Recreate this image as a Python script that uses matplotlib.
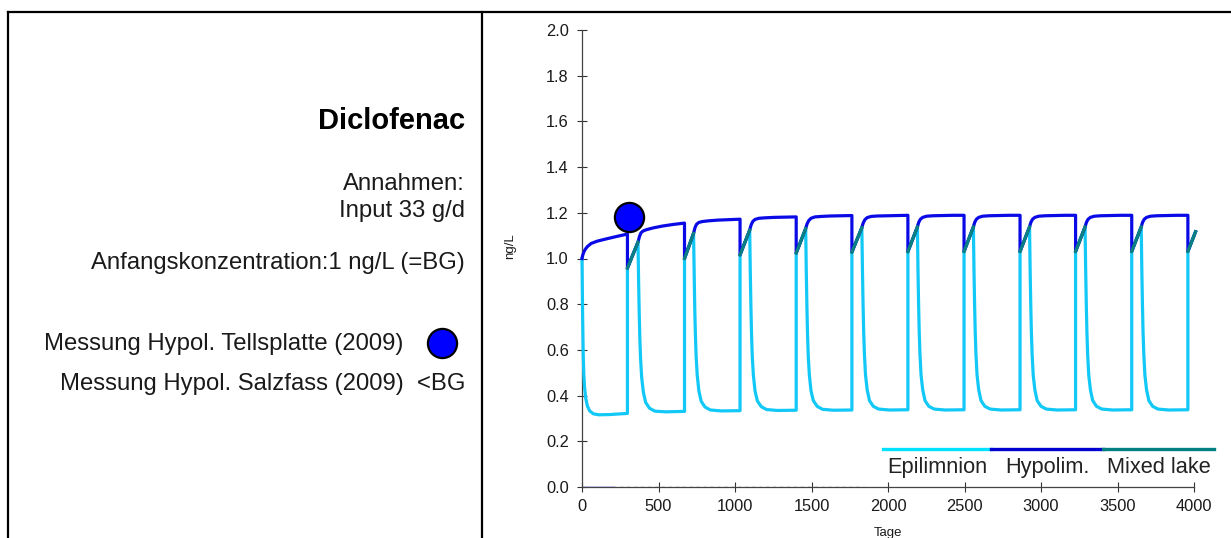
import matplotlib
matplotlib.use('Agg')
import matplotlib.pyplot as plt
from matplotlib.lines import Line2D

plt.rcParams['font.family'] = ['Liberation Sans', 'DejaVu Sans']

# --- values ---
# start of each stratified period and day of autumn overturn (days)
restrat_days = [0, 366, 729, 1096, 1462, 1829, 2192, 2558, 2925, 3288, 3655]
overturn_days = [297, 670, 1033, 1400, 1764, 2130, 2497, 2863, 3226, 3593, 3960]
last_day = 4010

# hypolimnion, days after restratification (last value sits at overturn)
hypo_offsets = [0, 5, 10, 20, 35, 60, 100, 160, 230]
hypo_values = [
    [1.000, 1.015, 1.025, 1.039, 1.052, 1.066, 1.076, 1.086, 1.097, 1.107],
    [1.072, 1.085, 1.097, 1.113, 1.121, 1.127, 1.134, 1.142, 1.149, 1.155],
    [1.110, 1.124, 1.136, 1.150, 1.158, 1.162, 1.165, 1.168, 1.170, 1.172],
    [1.124, 1.137, 1.148, 1.162, 1.171, 1.176, 1.178, 1.180, 1.181, 1.182],
    [1.131, 1.143, 1.153, 1.166, 1.176, 1.182, 1.184, 1.186, 1.187, 1.188],
    [1.135, 1.147, 1.157, 1.170, 1.179, 1.184, 1.186, 1.187, 1.188, 1.189],
    [1.138, 1.150, 1.160, 1.172, 1.180, 1.185, 1.187, 1.188, 1.189, 1.189],
    [1.138, 1.150, 1.160, 1.172, 1.180, 1.185, 1.187, 1.188, 1.189, 1.189],
    [1.138, 1.150, 1.160, 1.172, 1.180, 1.185, 1.187, 1.188, 1.189, 1.189],
    [1.138, 1.150, 1.160, 1.172, 1.180, 1.185, 1.187, 1.188, 1.189, 1.189],
    [1.138, 1.150, 1.160, 1.172, 1.180, 1.185, 1.187, 1.188, 1.189, 1.189],
]

# epilimnion, days after restratification (last value sits at overturn)
epi_offsets = [0, 4, 8, 12, 17, 24, 35, 50, 75, 110, 180]
epi_values = [
    [1.000, 0.75, 0.58, 0.49, 0.435, 0.39, 0.355, 0.333, 0.320, 0.316, 0.317, 0.322],
    [1.072, 0.90, 0.76, 0.65, 0.56, 0.48, 0.415, 0.370, 0.345, 0.332, 0.329, 0.331],
    [1.110, 0.93, 0.78, 0.67, 0.57, 0.49, 0.420, 0.375, 0.350, 0.337, 0.333, 0.334],
    [1.124, 0.94, 0.79, 0.67, 0.57, 0.49, 0.420, 0.377, 0.352, 0.339, 0.335, 0.336],
    [1.131, 0.94, 0.79, 0.67, 0.57, 0.49, 0.420, 0.378, 0.353, 0.340, 0.336, 0.337],
    [1.135, 0.95, 0.80, 0.68, 0.58, 0.49, 0.425, 0.378, 0.353, 0.341, 0.337, 0.338],
    [1.138, 0.95, 0.80, 0.68, 0.58, 0.49, 0.425, 0.378, 0.353, 0.341, 0.337, 0.338],
    [1.138, 0.95, 0.80, 0.68, 0.58, 0.49, 0.425, 0.378, 0.353, 0.341, 0.337, 0.338],
    [1.138, 0.95, 0.80, 0.68, 0.58, 0.49, 0.425, 0.378, 0.353, 0.341, 0.337, 0.338],
    [1.138, 0.95, 0.80, 0.68, 0.58, 0.49, 0.425, 0.378, 0.353, 0.341, 0.337, 0.338],
    [1.138, 0.95, 0.80, 0.68, 0.58, 0.49, 0.425, 0.378, 0.353, 0.341, 0.337, 0.338],
]

# mixed lake: value right after overturn and at the end of the mixed period
mix_start = [0.958, 1.000, 1.016, 1.024, 1.028, 1.030, 1.031, 1.031, 1.031, 1.031, 1.031]
mix_end = [1.072, 1.110, 1.124, 1.131, 1.135, 1.138, 1.138, 1.138, 1.138, 1.138, 1.117]

# measurement Tellsplatte 2009
meas_day = [310]
meas_value = [1.18]

# flat lines lying on the x axis
zero_solid_days = [0, 200]
zero_dotted_days = [200, 1840]

legend_labels = ['Epilimnion', 'Hypolim.', 'Mixed lake']
x_ticks = [0, 500, 1000, 1500, 2000, 2500, 3000, 3500, 4000]
y_ticks = [0.0, 0.2, 0.4, 0.6, 0.8, 1.0, 1.2, 1.4, 1.6, 1.8, 2.0]

c_epi = '#12C8F6'
c_hypo = '#0A0AE6'
c_mix = '#0A8080'
c_text = '#1a1a1a'

W, H = 1231, 538
fig = plt.figure(figsize=(W / 100, H / 100), dpi=100)
ax = fig.add_axes([582 / W, 1 - 487 / H, (1194 - 582) / W, (487 - 30) / H])

# build the two stratified series and the mixed segments
epi_x, epi_y, hypo_x, hypo_y, mix_segments = [], [], [], [], []
for i, start in enumerate(restrat_days):
    stop = overturn_days[i]
    mix_stop = restrat_days[i + 1] if i + 1 < len(restrat_days) else last_day
    epi_x += [start + o for o in epi_offsets] + [stop, stop, mix_stop]
    epi_y += epi_values[i] + [mix_start[i], mix_end[i]]
    hypo_x += [start + o for o in hypo_offsets] + [stop, stop, mix_stop]
    hypo_y += hypo_values[i] + [mix_start[i], mix_end[i]]
    mix_segments.append(([stop, mix_stop], [mix_start[i], mix_end[i]]))

ax.plot(zero_solid_days, [0, 0], color=c_hypo, lw=1.0, zorder=2)
ax.plot(zero_dotted_days, [0, 0], color='#5a6a80', lw=1.0, ls=(0, (2, 3)), zorder=2)

ax.plot(epi_x, epi_y, color=c_epi, lw=2.3, clip_on=False, zorder=3,
        solid_joinstyle='round')
ax.plot(hypo_x, hypo_y, color=c_hypo, lw=2.3, clip_on=False, zorder=4,
        solid_joinstyle='round')
for sx, sy in mix_segments:
    ax.plot(sx, sy, color=c_mix, lw=2.3, clip_on=False, zorder=5)

ax.plot(meas_day, meas_value, 'o', ms=21, mfc='#0000FF', mec='black', mew=1.6,
        zorder=6, clip_on=False)

ax.set_xlim(0, 4000)
ax.set_ylim(0, 2.0)
ax.set_xticks(x_ticks)
ax.set_yticks(y_ticks)
ax.set_yticklabels([f'{v:.1f}' for v in y_ticks])
for s in ['top', 'right']:
    ax.spines[s].set_visible(False)
for s in ['left', 'bottom']:
    ax.spines[s].set_color('#444444')
    ax.spines[s].set_linewidth(0.9)
ax.tick_params(direction='inout', length=7, width=0.8, color='#333333',
               labelsize=11.8, labelcolor=c_text)
ax.tick_params(axis='y', pad=6)
ax.tick_params(axis='x', pad=5)
ax.set_xlabel('Tage', fontsize=9.5, color=c_text)
ax.set_ylabel('ng/L', fontsize=9.5, color=c_text, va='center')
ax.xaxis.set_label_coords(0.5, -0.088)
ax.yaxis.set_label_coords(-0.118, 0.527)

# legend: one bar split in three colours, labels underneath
leg_y = 1 - 449 / H
leg_edges = [883, 991, 1103, 1214]
leg_text_x = [887, 1005, 1107]
for i, (lab, col) in enumerate(zip(legend_labels, ['#00E2FF', '#0000D0', '#008080'])):
    fig.add_artist(Line2D([leg_edges[i] / W, leg_edges[i + 1] / W], [leg_y, leg_y],
                          color=col, lw=2.4, transform=fig.transFigure))
    fig.text(leg_text_x[i] / W, 1 - 473 / H, lab, fontsize=15.7, color='#222222',
             ha='left', va='baseline')

# frame around the text panel and along the top
frame_kw = dict(color='black', lw=1.6, transform=fig.transFigure)
fig.add_artist(Line2D([8 / W, 8 / W], [0, 1 - 12 / H], **frame_kw))
fig.add_artist(Line2D([482 / W, 482 / W], [0, 1 - 12 / H], **frame_kw))
fig.add_artist(Line2D([8 / W, 1], [1 - 12 / H, 1 - 12 / H], **frame_kw))

# text panel
fs = 17.2
fig.text(465 / W, 1 - 129 / H, 'Diclofenac', fontsize=21, fontweight='bold',
         ha='right', va='baseline', color='black')
fig.text(465 / W, 1 - 190 / H, 'Annahmen:', fontsize=fs, ha='right',
         va='baseline', color=c_text)
fig.text(465 / W, 1 - 217 / H, 'Input 33 g/d', fontsize=fs, ha='right',
         va='baseline', color=c_text)
fig.text(465 / W, 1 - 269 / H, 'Anfangskonzentration:1 ng/L (=BG)', fontsize=fs,
         ha='right', va='baseline', color=c_text)
fig.text(403 / W, 1 - 350 / H, 'Messung Hypol. Tellsplatte (2009)', fontsize=fs,
         ha='right', va='baseline', color=c_text)
fig.add_artist(Line2D([442 / W], [1 - 343 / H], marker='o', ms=21, mfc='#0000FF',
                      mec='black', mew=1.6, transform=fig.transFigure))
fig.text(465 / W, 1 - 390 / H, 'Messung Hypol. Salzfass (2009)  <BG', fontsize=fs,
         ha='right', va='baseline', color=c_text)

fig.savefig('out.png', dpi=100)
